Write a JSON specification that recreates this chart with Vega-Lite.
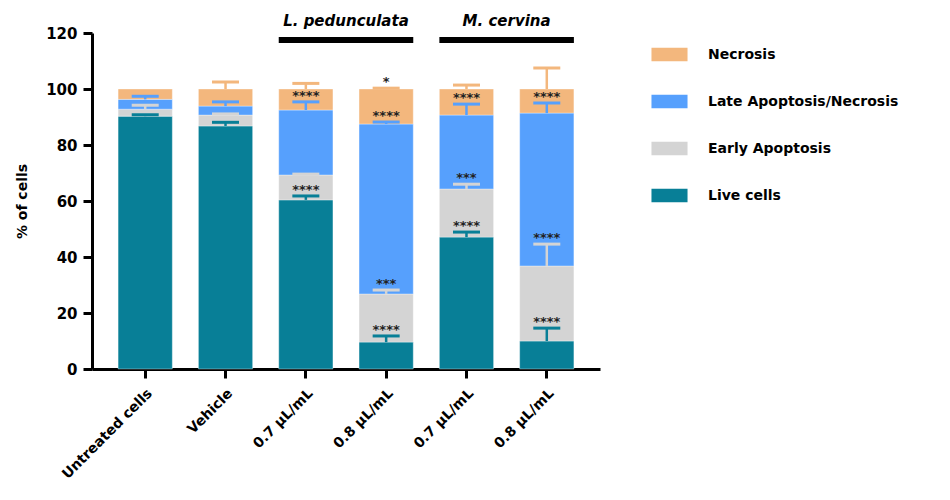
{
  "$schema": "https://vega.github.io/schema/vega-lite/v6.json",
  "autosize": {"type": "none"},
  "padding": {"left": 92, "top": 33, "right": 350, "bottom": 131},
  "width": 508,
  "height": 336,
  "background": "white",
  "config": {
    "view": {"stroke": null},
    "font": "DejaVu Sans"
  },
  "datasets": {
    "cells": [
      {"cond": "C1", "type": "Live cells", "k": 1, "value": 90.3, "err": 0.5, "sig": ""},
      {"cond": "C1", "type": "Early Apoptosis", "k": 2, "value": 2.5, "err": 1.4, "sig": ""},
      {"cond": "C1", "type": "Late Apoptosis/Necrosis", "k": 3, "value": 3.5, "err": 1.1, "sig": ""},
      {"cond": "C1", "type": "Necrosis", "k": 4, "value": 3.7, "err": 0, "sig": ""},
      {"cond": "C2", "type": "Live cells", "k": 1, "value": 86.8, "err": 1.3, "sig": ""},
      {"cond": "C2", "type": "Early Apoptosis", "k": 2, "value": 3.9, "err": 0.4, "sig": ""},
      {"cond": "C2", "type": "Late Apoptosis/Necrosis", "k": 3, "value": 3.2, "err": 1.5, "sig": ""},
      {"cond": "C2", "type": "Necrosis", "k": 4, "value": 6.1, "err": 2.5, "sig": ""},
      {"cond": "C3", "type": "Live cells", "k": 1, "value": 60.4, "err": 1.4, "sig": "****"},
      {"cond": "C3", "type": "Early Apoptosis", "k": 2, "value": 8.9, "err": 0.3, "sig": ""},
      {"cond": "C3", "type": "Late Apoptosis/Necrosis", "k": 3, "value": 23.2, "err": 2.9, "sig": "****"},
      {"cond": "C3", "type": "Necrosis", "k": 4, "value": 7.5, "err": 2.0, "sig": ""},
      {"cond": "C4", "type": "Live cells", "k": 1, "value": 9.6, "err": 2.2, "sig": "****"},
      {"cond": "C4", "type": "Early Apoptosis", "k": 2, "value": 17.2, "err": 1.4, "sig": "***"},
      {"cond": "C4", "type": "Late Apoptosis/Necrosis", "k": 3, "value": 60.7, "err": 0.7, "sig": "****"},
      {"cond": "C4", "type": "Necrosis", "k": 4, "value": 12.5, "err": 0.3, "sig": "*"},
      {"cond": "C5", "type": "Live cells", "k": 1, "value": 47.1, "err": 1.8, "sig": "****"},
      {"cond": "C5", "type": "Early Apoptosis", "k": 2, "value": 17.2, "err": 1.7, "sig": "***"},
      {"cond": "C5", "type": "Late Apoptosis/Necrosis", "k": 3, "value": 26.4, "err": 3.9, "sig": "****"},
      {"cond": "C5", "type": "Necrosis", "k": 4, "value": 9.3, "err": 1.4, "sig": ""},
      {"cond": "C6", "type": "Live cells", "k": 1, "value": 10.0, "err": 4.6, "sig": "****"},
      {"cond": "C6", "type": "Early Apoptosis", "k": 2, "value": 26.8, "err": 7.8, "sig": "****"},
      {"cond": "C6", "type": "Late Apoptosis/Necrosis", "k": 3, "value": 54.6, "err": 3.6, "sig": "****"},
      {"cond": "C6", "type": "Necrosis", "k": 4, "value": 8.6, "err": 7.5, "sig": ""}
    ],
    "groups": [
      {"name": "L. pedunculata", "from": "C3", "to": "C4", "level": 117.5, "labelLevel": 124.2},
      {"name": "M. cervina", "from": "C5", "to": "C6", "level": 117.5, "labelLevel": 124.2}
    ]
  },
  "layer": [
    {
      "data": {"name": "cells"},
      "transform": [
        {"stack": "value", "groupby": ["cond"], "sort": [{"field": "k", "order": "ascending"}], "as": ["y0", "y1"]},
        {"calculate": "datum.y1 + datum.err", "as": "errHi"}
      ],
      "layer": [
        {
          "mark": {"type": "bar", "stroke": "white", "strokeOpacity": 0.35, "strokeWidth": 1},
          "encoding": {
            "x": {
              "field": "cond", "type": "nominal", "sort": ["C1", "C2", "C3", "C4", "C5", "C6"],
              "scale": {"paddingInner": 0.325, "paddingOuter": 0.325},
              "axis": {
                "title": null,
                "labelExpr": "datum.value == 'C1' ? 'Untreated cells' : datum.value == 'C2' ? 'Vehicle' : (datum.value == 'C3' || datum.value == 'C5') ? '0.7 µL/mL' : '0.8 µL/mL'",
                "labelAngle": -45,
                "labelAlign": "right",
                "labelBaseline": "top",
                "labelFontSize": 14,
                "labelFontWeight": "bold",
                "labelColor": "black",
                "labelPadding": 8,
                "domainColor": "black",
                "domainWidth": 3,
                "tickColor": "black",
                "tickWidth": 3,
                "tickSize": 9
              }
            },
            "y": {
              "field": "y0", "type": "quantitative",
              "scale": {"domain": [0, 120], "nice": false},
              "axis": {
                "title": "% of cells",
                "titleFontSize": 14,
                "titleFontWeight": "bold",
                "titleColor": "black",
                "titlePadding": 16,
                "values": [0, 20, 40, 60, 80, 100, 120],
                "labelFontSize": 15,
                "labelFontWeight": "bold",
                "labelColor": "black",
                "labelPadding": 6,
                "grid": false,
                "domainColor": "black",
                "domainWidth": 3,
                "tickColor": "black",
                "tickWidth": 3,
                "tickSize": 9
              }
            },
            "y2": {"field": "y1"},
            "color": {
              "field": "type", "type": "nominal",
              "scale": {
                "domain": ["Necrosis", "Late Apoptosis/Necrosis", "Early Apoptosis", "Live cells"],
                "range": ["#F3B77D", "#56A0FD", "#D4D4D4", "#087F97"]
              },
              "legend": {
                "title": null,
                "orient": "none",
                "legendX": 559,
                "legendY": 3,
                "symbolType": "M-1,-0.38H1V0.38H-1Z",
                "symbolSize": 1300,
                "symbolStrokeWidth": 0,
                "symbolOpacity": 1,
                "labelFontSize": 14,
                "labelFontWeight": "bold",
                "labelColor": "black",
                "labelOffset": 20,
                "rowPadding": 21,
                "labelLimit": 400
              }
            }
          }
        },
        {
          "transform": [{"filter": "datum.err > 0"}],
          "mark": {"type": "rule", "strokeWidth": 2.5},
          "encoding": {
            "x": {"field": "cond", "type": "nominal", "sort": ["C1", "C2", "C3", "C4", "C5", "C6"]},
            "y": {"field": "y1", "type": "quantitative"},
            "y2": {"field": "errHi"},
            "color": {"field": "type", "type": "nominal", "legend": null}
          }
        },
        {
          "transform": [{"filter": "datum.err > 0"}],
          "mark": {"type": "tick", "orient": "horizontal", "size": 27, "thickness": 3, "opacity": 1},
          "encoding": {
            "x": {"field": "cond", "type": "nominal", "sort": ["C1", "C2", "C3", "C4", "C5", "C6"]},
            "y": {"field": "errHi", "type": "quantitative"},
            "color": {"field": "type", "type": "nominal", "legend": null}
          }
        },
        {
          "mark": {"type": "text", "baseline": "bottom", "align": "center", "dy": 1, "fontSize": 13, "fontWeight": "bold", "color": "#222222", "font": "DejaVu Sans"},
          "encoding": {
            "x": {"field": "cond", "type": "nominal", "sort": ["C1", "C2", "C3", "C4", "C5", "C6"]},
            "y": {"field": "errHi", "type": "quantitative"},
            "text": {"field": "sig"}
          }
        }
      ]
    },
    {
      "data": {"name": "groups"},
      "layer": [
        {
          "mark": {"type": "rule", "strokeWidth": 6, "color": "black", "clip": false},
          "encoding": {
            "x": {"field": "from", "type": "nominal", "bandPosition": 0, "sort": ["C1", "C2", "C3", "C4", "C5", "C6"]},
            "x2": {"field": "to", "bandPosition": 1},
            "y": {"field": "level", "type": "quantitative"}
          }
        },
        {
          "mark": {"type": "text", "fontStyle": "italic", "fontWeight": "bold", "fontSize": 15, "color": "black", "baseline": "middle", "align": "center", "clip": false},
          "encoding": {
            "x": {"field": "from", "type": "nominal", "bandPosition": 1.24, "sort": ["C1", "C2", "C3", "C4", "C5", "C6"]},
            "y": {"field": "labelLevel", "type": "quantitative"},
            "text": {"field": "name"}
          }
        }
      ]
    }
  ]
}
